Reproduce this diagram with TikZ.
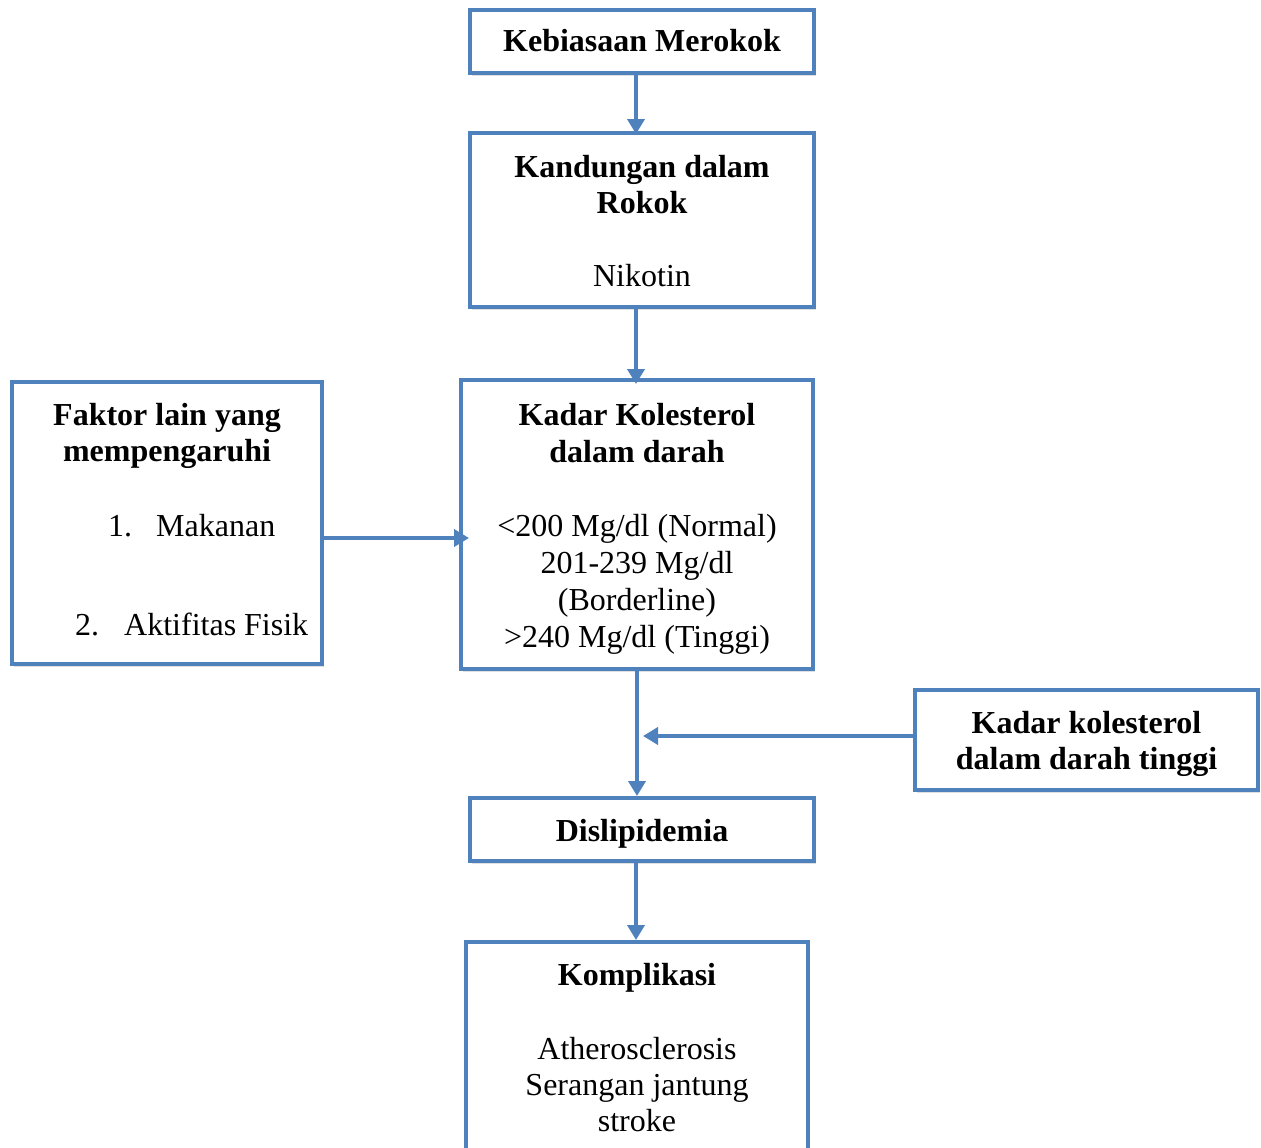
\documentclass[tikz,border=0pt]{standalone}
\usepackage{fontspec}
\setmainfont{Liberation Serif}
\usetikzlibrary{arrows.meta,shadows}
\definecolor{obl}{HTML}{4F81BD}
\begin{document}
\begin{tikzpicture}[x=1pt,y=-1pt,
  box/.style={draw=obl,line width=4pt,fill=white,rectangle,inner sep=0pt,
    drop shadow={shadow xshift=2pt,shadow yshift=-3pt,opacity=0.25}},
  txt/.style={font=\fontsize{32}{36.5}\selectfont,inner sep=0pt,anchor=base,align=center},
  btxt/.style={txt,font=\fontsize{32}{36.5}\selectfont\bfseries},
  arr/.style={draw=obl,line width=4.5pt,-{Triangle[width=17pt,length=15pt]}}]
\useasboundingbox (0,0) rectangle (1261,1148);
% boxes
\node[box,minimum width=344pt,minimum height=63pt] (b1) at (642,41.5) {};
\node[box,minimum width=344pt,minimum height=174pt] (b2) at (642,220) {};
\node[box,minimum width=352pt,minimum height=289pt] (b3) at (637,524.5) {};
\node[box,minimum width=310pt,minimum height=282pt] (b4) at (167,523) {};
\node[box,minimum width=343pt,minimum height=100pt] (b6) at (1086.5,740) {};
\node[box,minimum width=344pt,minimum height=63pt] (b5) at (642,829.5) {};
\node[box,minimum width=342pt,minimum height=214pt] (b7) at (637,1049) {};
% texts
\node[btxt] (t1) at (642,52) {Kebiasaan Merokok};
\node[btxt] (t2a) at (642,177) {Kandungan dalam};
\node[btxt] (t2b) at (642,213) {Rokok};
\node[txt] (t2c) at (642,286) {Nikotin};
\node[btxt] (t3a) at (637,425) {Kadar Kolesterol};
\node[btxt] (t3b) at (637,462) {dalam darah};
\node[txt] (t3c) at (637,536) {<200 Mg/dl (Normal)};
\node[txt] (t3d) at (637,573) {201-239 Mg/dl};
\node[txt] (t3e) at (637,610) {(Borderline)};
\node[txt] (t3f) at (637,647) {>240 Mg/dl (Tinggi)};
\node[btxt] (t4a) at (167,425) {Faktor lain yang};
\node[btxt] (t4b) at (167,461) {mempengaruhi};
\node[txt,anchor=base west] (t4c) at (108,536) {1.};
\node[txt,anchor=base west] (t4d) at (156,536) {Makanan};
\node[txt,anchor=base west] (t4e) at (75,635) {2.};
\node[txt,anchor=base west] (t4f) at (124,635) {Aktifitas Fisik};
\node[btxt] (t6a) at (1086.5,733) {Kadar kolesterol};
\node[btxt] (t6b) at (1086.5,769) {dalam darah tinggi};
\node[btxt] (t5) at (642,841) {Dislipidemia};
\node[btxt] (t7a) at (637,985) {Komplikasi};
\node[txt] (t7b) at (637,1059) {Atherosclerosis};
\node[txt] (t7c) at (637,1095) {Serangan jantung};
\node[txt] (t7d) at (637,1131) {stroke};
% connectors
\coordinate (j) at (643,736);
\draw[arr] (636,73) -- (636,134);
\draw[arr] (b2.south -| 636,0) -- (636,384);
\draw[arr] (b4.east |- 0,538) -- (469,538);
\draw[arr] (b3.south) -- (b3.south |- b5.north);
\draw[arr] (b6.west |- j) -- (j);
\draw[arr] (b5.south -| 636,0) -- (636,940);
\end{tikzpicture}
\end{document}
